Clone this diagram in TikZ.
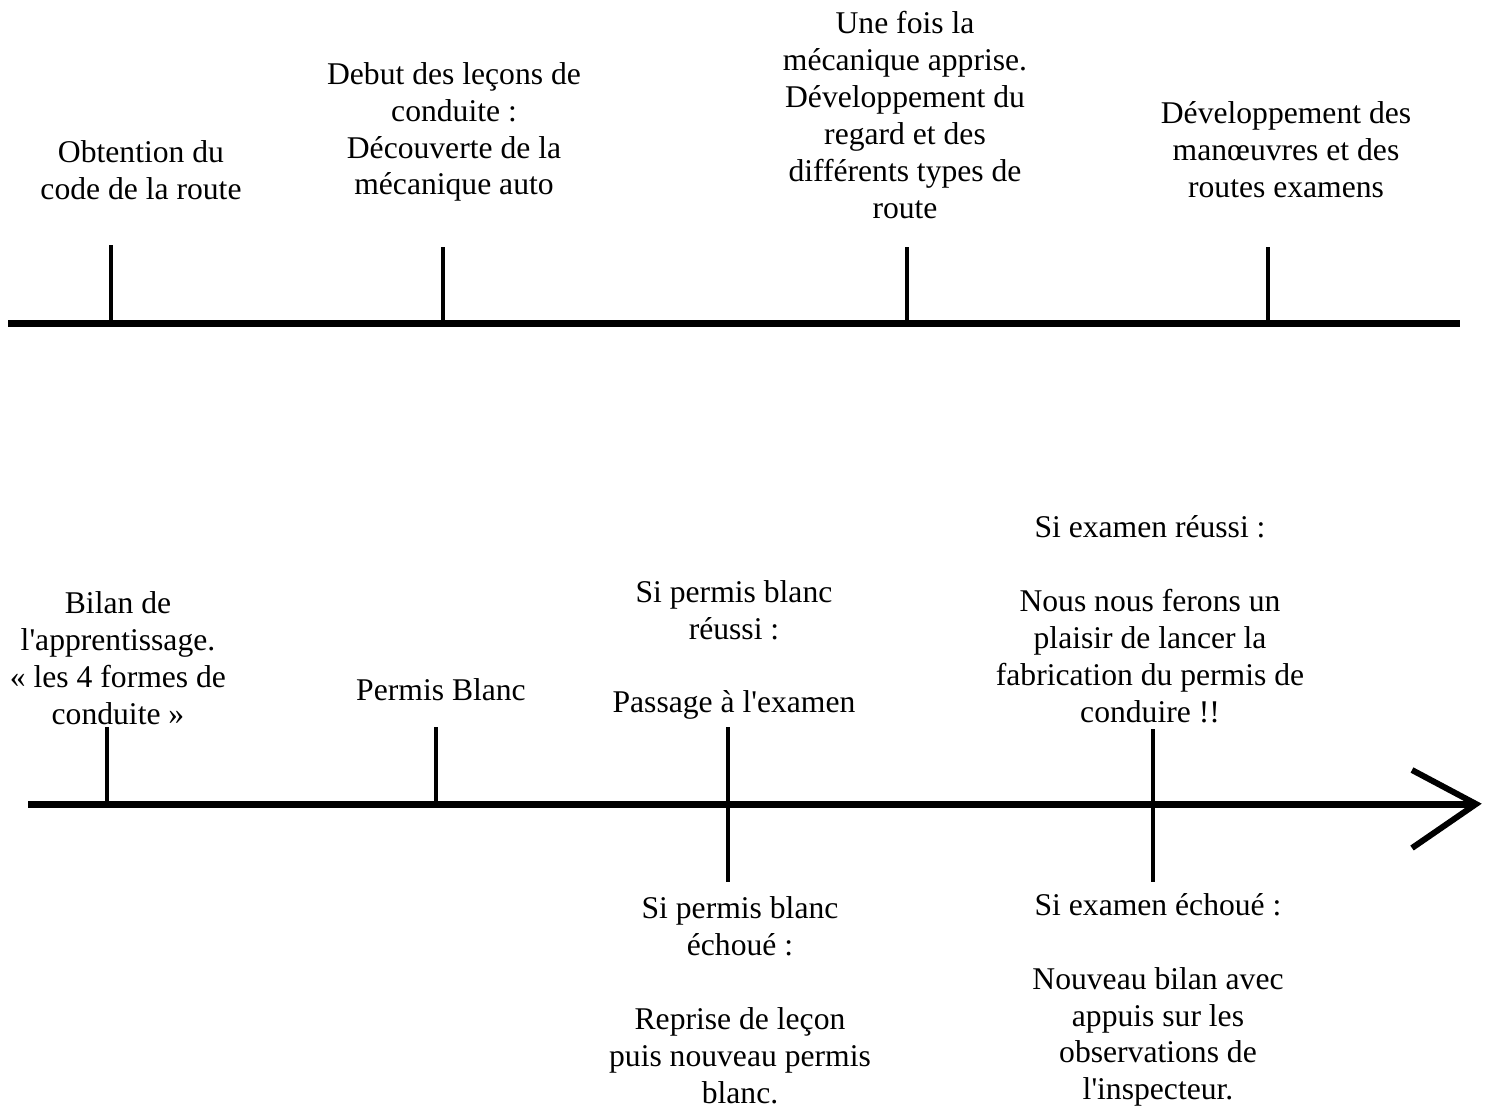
\documentclass[tikz,border=0pt]{standalone}
\usepackage{fontspec}
\setmainfont{Liberation Serif}
\newcommand{\ap}{\textquotesingle}
\begin{document}
\begin{tikzpicture}[x=0.02cm,y=-0.02cm,
  axis/.style={line width=4pt},
  tick/.style={line width=2pt},
  lbl/.style={align=center,inner sep=0pt,font=\fontsize{18}{21}\selectfont}]
\useasboundingbox (0,0) rectangle (1493,1107);
% top axis
\coordinate (tA) at (8,323);
\coordinate (tB) at (1460,323);
\draw[axis] (tA) -- (tB);
\coordinate (t1) at (111,323); \coordinate (t1u) at (111,245);
\coordinate (t2) at (443,323); \coordinate (t2u) at (443,247);
\coordinate (t3) at (907,323); \coordinate (t3u) at (907,247);
\coordinate (t4) at (1268,323); \coordinate (t4u) at (1268,247);
\draw[tick] (t1) -- (t1u);
\draw[tick] (t2) -- (t2u);
\draw[tick] (t3) -- (t3u);
\draw[tick] (t4) -- (t4u);
\node[lbl] (L1) at (141,170) {Obtention du\\code de la route};
\node[lbl] (L2) at (454,132) {Debut des leçons de\\conduite :\\Découverte de la\\mécanique auto};
\node[lbl] (L3) at (905,115) {Une fois la\\mécanique apprise.\\Développement du\\regard et des\\différents types de\\route};
\node[lbl] (L4) at (1286,150) {Développement des\\manœuvres et des\\routes examens};
% bottom axis
\coordinate (bA) at (28,804);
\coordinate (bB) at (1476,804);
\draw[axis] (bA) -- (bB);
\coordinate (h1) at (1412,770);
\coordinate (h2) at (1412,848);
\draw[line width=3.4pt,line join=miter] (h1) -- (bB) -- (h2);
\coordinate (b1) at (107,804); \coordinate (b1u) at (107,727);
\coordinate (b2) at (436,804); \coordinate (b2u) at (436,727);
\coordinate (b3u) at (728,727); \coordinate (b3d) at (728,882);
\coordinate (b4u) at (1153,729); \coordinate (b4d) at (1153,882);
\draw[tick] (b1) -- (b1u);
\draw[tick] (b2) -- (b2u);
\draw[tick] (b3u) -- (b3d);
\draw[tick] (b4u) -- (b4d);
\node[lbl] (M1) at (118,658) {Bilan de\\l\ap apprentissage.\\« les 4 formes de\\conduite »};
\node[lbl] (M2) at (441,690) {Permis Blanc};
\node[lbl] (M3) at (734,650) {Si permis blanc\\réussi :\\[21pt]Passage à l\ap examen};
\node[lbl] (M4) at (1150,619) {Si examen réussi :\\[21pt]Nous nous ferons un\\plaisir de lancer la\\fabrication du permis de\\conduire !!};
\node[lbl] (M5) at (740,1000) {Si permis blanc\\échoué :\\[21pt]Reprise de leçon\\puis nouveau permis\\blanc.};
\node[lbl] (M6) at (1158,1000) {Si examen échoué :\\[21pt]Nouveau bilan avec\\appuis sur les\\observations de\\l\ap inspecteur.};
\end{tikzpicture}
\end{document}
